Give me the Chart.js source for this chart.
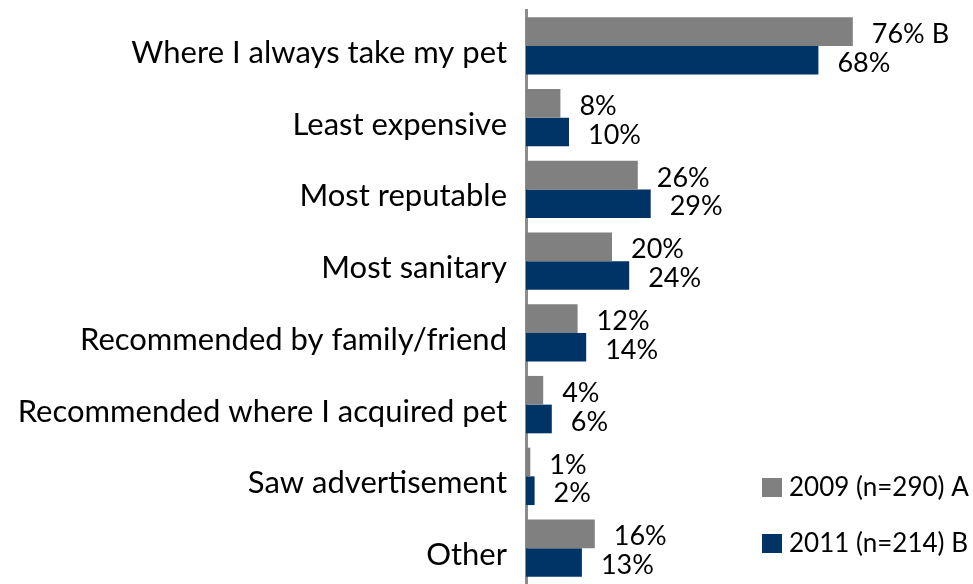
<!DOCTYPE html>
<html>
<head>
<meta charset="utf-8">
<script src="https://cdn.jsdelivr.net/npm/chart.js@4.4.1/dist/chart.umd.min.js"></script>
<style>
  html, body { margin: 0; padding: 0; background: #ffffff; }
  #wrap { position: relative; width: 973px; height: 584px; }
</style>
</head>
<body>
<div id="wrap"><canvas id="chart" width="973" height="584"></canvas></div>
<script>
// Reasons for choosing a provider, by survey year (percent of respondents)
const categories = [
  'Where I always take my pet',
  'Least expensive',
  'Most reputable',
  'Most sanitary',
  'Recommended by family/friend',
  'Recommended where I acquired pet',
  'Saw advertisement',
  'Other'
];
const values2009 = [76, 8, 26, 20, 12, 4, 1, 16];
const values2011 = [68, 10, 29, 24, 14, 6, 2, 13];
// Significance letters shown after a value (B = higher than 2011, A = higher than 2009)
const sig2009 = ['B', '', '', '', '', '', '', ''];
const sig2011 = ['', '', '', '', '', '', '', ''];
const seriesLabels = ['2009 (n=290) A', '2011 (n=214) B'];

const FONT = 'Lato, "Open Sans", sans-serif';
const GRAY = '#808080';
const NAVY = '#003366';

const valueLabels = {
  id: 'valueLabels',
  afterDatasetsDraw(chart) {
    const ctx = chart.ctx;
    ctx.save();
    ctx.font = '27px ' + FONT;
    ctx.fillStyle = '#000';
    ctx.textAlign = 'left';
    ctx.textBaseline = 'middle';
    const sigs = [sig2009, sig2011];
    chart.data.datasets.forEach((ds, di) => {
      const meta = chart.getDatasetMeta(di);
      meta.data.forEach((bar, i) => {
        const v = ds.data[i];
        const s = sigs[di][i];
        const txt = v + '%' + (s ? ' ' + s : '');
        ctx.fillText(txt, bar.x + 19, bar.y + 3);
      });
    });
    ctx.restore();
  }
};

const boxLegend = {
  id: 'boxLegend',
  afterDraw(chart) {
    const ctx = chart.ctx;
    ctx.save();
    ctx.font = '26px ' + FONT;
    ctx.textAlign = 'left';
    ctx.textBaseline = 'middle';
    chart.data.datasets.forEach((ds, di) => {
      const y = 478 + di * 56;
      ctx.fillStyle = ds.backgroundColor;
      ctx.fillRect(762, y, 20, 19);
      ctx.fillStyle = '#000';
      ctx.fillText(ds.label, 789, y + 10);
    });
    ctx.restore();
  }
};

new Chart(document.getElementById('chart'), {
  type: 'bar',
  data: {
    labels: categories,
    datasets: [
      { label: seriesLabels[0], data: values2009, backgroundColor: GRAY },
      { label: seriesLabels[1], data: values2011, backgroundColor: NAVY }
    ]
  },
  options: {
    indexAxis: 'y',
    responsive: false,
    animation: false,
    layout: { padding: { top: 10, right: 17, bottom: 0, left: 0 } },
    categoryPercentage: 0.8,
    barPercentage: 1.0,
    plugins: {
      legend: { display: false },
      tooltip: { enabled: false }
    },
    scales: {
      x: {
        display: false,
        min: 0,
        max: 100
      },
      y: {
        afterFit(scale) {
          scale.width = 526;
          scale.paddingTop = 0;
          scale.paddingBottom = 0;
        },
        grid: { display: false, drawTicks: false },
        border: { display: true, color: '#8c8c8c', width: 3 },
        ticks: {
          color: '#000',
          padding: 19,
          labelOffset: 7,
          font: { family: FONT, size: 31 }
        }
      }
    }
  },
  plugins: [valueLabels, boxLegend]
});
</script>
</body>
</html>
